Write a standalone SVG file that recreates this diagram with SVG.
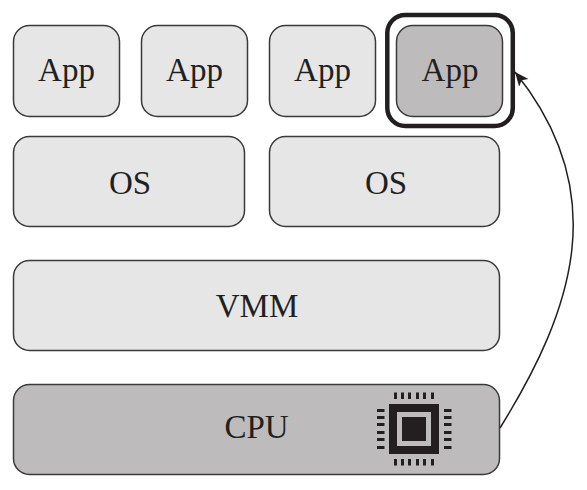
<svg xmlns="http://www.w3.org/2000/svg" width="587" height="490" viewBox="0 0 587 490">
<defs>
<marker id="arrow" markerUnits="userSpaceOnUse" markerWidth="18" markerHeight="14" refX="14" refY="6.500" orient="auto"><path d="M0,0.500 L14,6.500 L0,12.500 L3.500,6.500 Z" fill="#231f20"/></marker>
</defs>
<style>
.light{fill:#e6e6e7;stroke:#3a3a3c;stroke-width:1.5}
.dark{fill:#bdbbbc;stroke:#3a3a3c;stroke-width:1.5}
text{font-family:"Liberation Serif","Times New Roman",serif;font-size:33px;fill:#231f20;text-anchor:middle}
.chip{fill:#231f20}
</style>
<rect width="587" height="490" fill="#fff"/>
<g id="connectors">
<path d="M500,428 C574.500,308 612,192 515,72" fill="none" stroke="#231f20" stroke-width="1.5" marker-end="url(#arrow)"/>
</g>
<g id="app1"><rect class="light" x="13.500" y="25.500" width="106" height="91" rx="16"/><text x="66.500" y="80.500">App</text></g>
<g id="app2"><rect class="light" x="141.500" y="25.500" width="106" height="91" rx="16"/><text x="194.500" y="80.500">App</text></g>
<g id="app3"><rect class="light" x="269.500" y="25.500" width="106" height="91" rx="16"/><text x="322.500" y="80.500">App</text></g>
<g id="app4"><rect x="387.300" y="15" width="125.500" height="111" rx="18" fill="none" stroke="#231f20" stroke-width="4.500"/><rect class="dark" x="396.500" y="25.500" width="106" height="91" rx="16"/><text x="450" y="80.500">App</text></g>
<g id="os1"><rect class="light" x="13.500" y="136.500" width="231" height="90" rx="16"/><text x="130" y="193.500">OS</text></g>
<g id="os2"><rect class="light" x="269.500" y="136.500" width="230" height="90" rx="16"/><text x="386" y="193.500">OS</text></g>
<g id="vmm"><rect class="light" x="13.500" y="260.500" width="486" height="90" rx="16"/><text x="257" y="317">VMM</text></g>
<g id="cpu"><rect class="dark" x="13.500" y="384.500" width="486" height="90" rx="16"/><text x="256.500" y="438">CPU</text>
<path class="chip" fill-rule="evenodd" d="M389,404H439V454H389ZM397,412V446H431V412Z"/>
<rect class="chip" x="402" y="417" width="24" height="24"/>
<g class="chip">
<rect x="394" y="392.500" width="3" height="6.500"/><rect x="401" y="392.500" width="3" height="6.500"/><rect x="408" y="392.500" width="3" height="6.500"/><rect x="416" y="392.500" width="3" height="6.500"/><rect x="423" y="392.500" width="3" height="6.500"/><rect x="431" y="392.500" width="3" height="6.500"/>
<rect x="394" y="459" width="3" height="6.500"/><rect x="401" y="459" width="3" height="6.500"/><rect x="408" y="459" width="3" height="6.500"/><rect x="416" y="459" width="3" height="6.500"/><rect x="423" y="459" width="3" height="6.500"/><rect x="431" y="459" width="3" height="6.500"/>
<rect x="377" y="409" width="7.500" height="3"/><rect x="377" y="416" width="7.500" height="3"/><rect x="377" y="423" width="7.500" height="3"/><rect x="377" y="431" width="7.500" height="3"/><rect x="377" y="438" width="7.500" height="3"/><rect x="377" y="446" width="7.500" height="3"/>
<rect x="444" y="409" width="7.500" height="3"/><rect x="444" y="416" width="7.500" height="3"/><rect x="444" y="423" width="7.500" height="3"/><rect x="444" y="431" width="7.500" height="3"/><rect x="444" y="438" width="7.500" height="3"/><rect x="444" y="446" width="7.500" height="3"/>
</g>
</g>
</svg>
